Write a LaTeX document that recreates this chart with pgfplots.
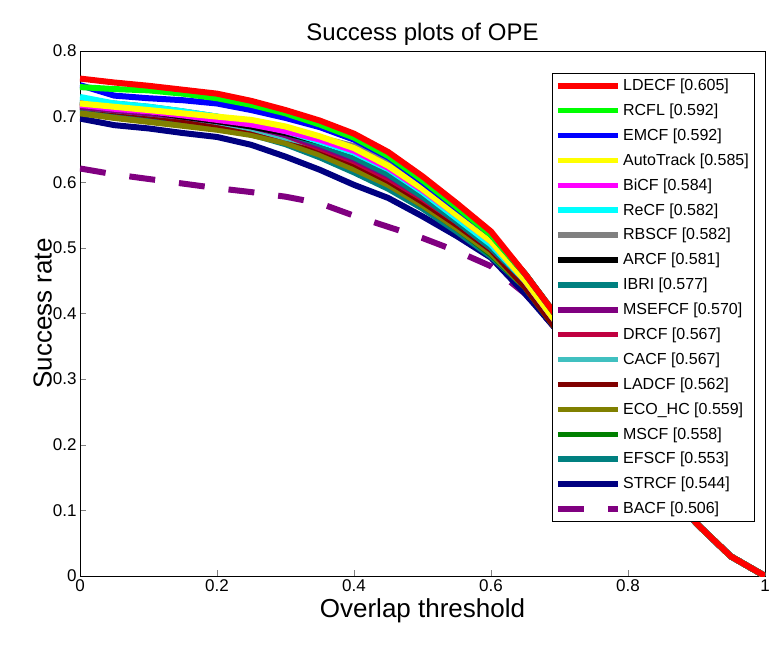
\documentclass[border=0pt]{standalone}
\usepackage{pgfplots}
\pgfplotsset{compat=1.18}
\usepackage{fontspec}
\setmainfont{Liberation Sans}
\definecolor{cDR}{RGB}{192,0,64}
\definecolor{cCA}{RGB}{64,192,192}
\definecolor{cTE}{RGB}{0,128,128}
\definecolor{cMS}{RGB}{0,128,0}
\definecolor{cPU}{RGB}{128,0,128}
\definecolor{cMA}{RGB}{128,0,0}
\definecolor{cOL}{RGB}{128,128,0}
\definecolor{cNA}{RGB}{0,0,128}
\definecolor{cMG}{RGB}{255,0,255}
\definecolor{cCY}{RGB}{0,255,255}
\definecolor{cYE}{RGB}{255,255,0}
\definecolor{cGR}{RGB}{0,255,0}
\definecolor{cRE}{RGB}{255,0,0}
\definecolor{cBL}{RGB}{0,0,255}
\definecolor{cGY}{RGB}{128,128,128}
\begin{document}
\begin{tikzpicture}
\begin{axis}[scale only axis, width=685pt, height=525pt,
 xmin=0,xmax=1,ymin=0,ymax=0.8,
 xtick={0,0.2,...,1}, ytick={0,0.1,...,0.8},
 xticklabel style={/pgf/number format/fixed},
 yticklabel style={/pgf/number format/fixed,/pgf/number format/precision=1},
 /pgf/number format/assume math mode=true,
 tick label style={font=\fontsize{17}{20}\selectfont},
 tick align=inside, major tick length=6pt, axis line style={line width=0.8pt},
 xtick pos=bottom, ytick pos=left, axis lines=box,
 title={Success plots of OPE}, title style={font=\fontsize{24}{28}\selectfont, yshift=-4pt},
 xlabel={Overlap threshold}, ylabel={Success rate},
 label style={font=\fontsize{26}{30}\selectfont},
 ylabel style={yshift=-6pt},
 every axis plot/.append style={line width=6pt, line join=round},
 reverse legend,
 legend style={at={(0.985,0.958)}, anchor=north east, font=\fontsize{16}{19}\selectfont,
   draw=black, line width=0.8pt, fill=white, inner sep=3pt, row sep=6.3pt,
   nodes={inner sep=2.5pt, text depth=2pt}},
 legend cell align=left,
 legend image code/.code={\draw[#1, line width=5.5pt] (0pt,0pt) -- (60pt,0pt);},
]
\addplot[cPU, dash pattern=on 26pt off 24pt] coordinates {(0,.621)(0.05,.612)(0.1,.605)(0.15,.598)(0.2,.591)(0.25,.585)(0.3,.578)(0.35,.568)(0.4,.549)(0.45,.532)(0.5,.515)(0.55,.495)(0.6,.472)(0.65,.43)(0.7,.37)(0.75,.30)(0.8,.22)(0.85,.15)(0.9,.08)(0.95,.03)(1,0)};
\addlegendentry{BACF [0.506]}
\addplot[cNA] coordinates {(0,.697)(0.05,.687)(0.1,.682)(0.15,.675)(0.2,.669)(0.25,.657)(0.3,.639)(0.35,.619)(0.4,.596)(0.45,.576)(0.5,.548)(0.55,.518)(0.6,.485)(0.65,.43)(0.7,.37)(0.75,.29)(0.8,.21)(0.85,.14)(0.9,.08)(0.95,.03)(1,0)};
\addlegendentry{STRCF [0.544]}
\addplot[cTE] coordinates {(0,.71)(0.05,.70)(0.1,.695)(0.15,.69)(0.2,.683)(0.25,.673)(0.3,.658)(0.35,.638)(0.4,.615)(0.45,.59)(0.5,.56)(0.55,.525)(0.6,.487)(0.65,.44)(0.7,.37)(0.75,.29)(0.8,.21)(0.85,.14)(0.9,.08)(0.95,.03)(1,0)};
\addlegendentry{EFSCF [0.553]}
\addplot[cMS] coordinates {(0,.722)(0.05,.718)(0.1,.712)(0.15,.705)(0.2,.695)(0.25,.682)(0.3,.665)(0.35,.645)(0.4,.622)(0.45,.597)(0.5,.565)(0.55,.53)(0.6,.49)(0.65,.44)(0.7,.37)(0.75,.29)(0.8,.21)(0.85,.14)(0.9,.08)(0.95,.03)(1,0)};
\addlegendentry{MSCF [0.558]}
\addplot[cOL] coordinates {(0,.705)(0.05,.698)(0.1,.692)(0.15,.686)(0.2,.68)(0.25,.672)(0.3,.66)(0.35,.642)(0.4,.62)(0.45,.596)(0.5,.565)(0.55,.53)(0.6,.492)(0.65,.44)(0.7,.37)(0.75,.29)(0.8,.21)(0.85,.14)(0.9,.08)(0.95,.03)(1,0)};
\addlegendentry{ECO\_HC [0.559]}
\addplot[cMA] coordinates {(0,.715)(0.05,.708)(0.1,.702)(0.15,.695)(0.2,.688)(0.25,.68)(0.3,.668)(0.35,.65)(0.4,.628)(0.45,.602)(0.5,.57)(0.55,.535)(0.6,.497)(0.65,.44)(0.7,.37)(0.75,.29)(0.8,.21)(0.85,.14)(0.9,.08)(0.95,.03)(1,0)};
\addlegendentry{LADCF [0.562]}
\addplot[cCA] coordinates {(0,.715)(0.05,.71)(0.1,.705)(0.15,.70)(0.2,.692)(0.25,.682)(0.3,.668)(0.35,.655)(0.4,.642)(0.45,.62)(0.5,.585)(0.55,.545)(0.6,.505)(0.65,.45)(0.7,.38)(0.75,.30)(0.8,.22)(0.85,.14)(0.9,.08)(0.95,.03)(1,0)};
\addlegendentry{CACF [0.567]}
\addplot[cDR] coordinates {(0,.72)(0.05,.715)(0.1,.71)(0.15,.705)(0.2,.698)(0.25,.688)(0.3,.672)(0.35,.652)(0.4,.632)(0.45,.606)(0.5,.575)(0.55,.54)(0.6,.50)(0.65,.45)(0.7,.38)(0.75,.30)(0.8,.22)(0.85,.14)(0.9,.08)(0.95,.03)(1,0)};
\addlegendentry{DRCF [0.567]}
\addplot[cPU] coordinates {(0,.715)(0.05,.71)(0.1,.705)(0.15,.70)(0.2,.693)(0.25,.685)(0.3,.672)(0.35,.655)(0.4,.635)(0.45,.61)(0.5,.578)(0.55,.54)(0.6,.50)(0.65,.45)(0.7,.38)(0.75,.30)(0.8,.22)(0.85,.14)(0.9,.08)(0.95,.03)(1,0)};
\addlegendentry{MSEFCF [0.570]}
\addplot[cTE] coordinates {(0,.725)(0.05,.72)(0.1,.715)(0.15,.708)(0.2,.70)(0.25,.69)(0.3,.676)(0.35,.658)(0.4,.638)(0.45,.612)(0.5,.578)(0.55,.54)(0.6,.50)(0.65,.45)(0.7,.38)(0.75,.30)(0.8,.22)(0.85,.14)(0.9,.08)(0.95,.03)(1,0)};
\addlegendentry{IBRI [0.577]}
\addplot[black] coordinates {(0,.72)(0.05,.714)(0.1,.708)(0.15,.70)(0.2,.693)(0.25,.685)(0.3,.675)(0.35,.662)(0.4,.645)(0.45,.625)(0.5,.595)(0.55,.555)(0.6,.515)(0.65,.46)(0.7,.39)(0.75,.31)(0.8,.23)(0.85,.15)(0.9,.08)(0.95,.03)(1,0)};
\addlegendentry{ARCF [0.581]}
\addplot[cGY] coordinates {(0,.722)(0.05,.716)(0.1,.71)(0.15,.704)(0.2,.697)(0.25,.69)(0.3,.68)(0.35,.668)(0.4,.655)(0.45,.63)(0.5,.592)(0.55,.55)(0.6,.508)(0.65,.45)(0.7,.38)(0.75,.30)(0.8,.22)(0.85,.15)(0.9,.08)(0.95,.03)(1,0)};
\addlegendentry{RBSCF [0.582]}
\addplot[cCY] coordinates {(0,.73)(0.05,.72)(0.1,.715)(0.15,.708)(0.2,.70)(0.25,.69)(0.3,.678)(0.35,.662)(0.4,.645)(0.45,.62)(0.5,.585)(0.55,.545)(0.6,.505)(0.65,.45)(0.7,.38)(0.75,.30)(0.8,.22)(0.85,.15)(0.9,.08)(0.95,.03)(1,0)};
\addlegendentry{ReCF [0.582]}
\addplot[cMG] coordinates {(0,.718)(0.05,.712)(0.1,.708)(0.15,.702)(0.2,.695)(0.25,.688)(0.3,.678)(0.35,.665)(0.4,.648)(0.45,.622)(0.5,.588)(0.55,.55)(0.6,.51)(0.65,.45)(0.7,.38)(0.75,.30)(0.8,.22)(0.85,.15)(0.9,.08)(0.95,.03)(1,0)};
\addlegendentry{BiCF [0.584]}
\addplot[cYE] coordinates {(0,.72)(0.05,.715)(0.1,.71)(0.15,.705)(0.2,.70)(0.25,.695)(0.3,.685)(0.35,.67)(0.4,.652)(0.45,.625)(0.5,.59)(0.55,.55)(0.6,.51)(0.65,.45)(0.7,.38)(0.75,.30)(0.8,.22)(0.85,.15)(0.9,.08)(0.95,.03)(1,0)};
\addlegendentry{AutoTrack [0.585]}
\addplot[cBL] coordinates {(0,.748)(0.05,.732)(0.1,.728)(0.15,.725)(0.2,.72)(0.25,.71)(0.3,.698)(0.35,.684)(0.4,.665)(0.45,.638)(0.5,.60)(0.55,.56)(0.6,.52)(0.65,.46)(0.7,.39)(0.75,.31)(0.8,.23)(0.85,.15)(0.9,.08)(0.95,.03)(1,0)};
\addlegendentry{EMCF [0.592]}
\addplot[cGR] coordinates {(0,.745)(0.05,.742)(0.1,.74)(0.15,.735)(0.2,.728)(0.25,.718)(0.3,.705)(0.35,.688)(0.4,.668)(0.45,.64)(0.5,.603)(0.55,.562)(0.6,.52)(0.65,.46)(0.7,.39)(0.75,.31)(0.8,.23)(0.85,.15)(0.9,.08)(0.95,.03)(1,0)};
\addlegendentry{RCFL [0.592]}
\addplot[cRE] coordinates {(0,.758)(0.05,.752)(0.1,.747)(0.15,.741)(0.2,.735)(0.25,.724)(0.3,.71)(0.35,.694)(0.4,.674)(0.45,.646)(0.5,.609)(0.55,.568)(0.6,.525)(0.65,.46)(0.7,.39)(0.75,.31)(0.8,.23)(0.85,.15)(0.9,.08)(0.95,.03)(1,0)};
\addlegendentry{LDECF [0.605]}
\end{axis}
\pgfresetboundingbox
\path (current axis.south west) ++(-80pt,-80pt) rectangle ++(779pt,656pt);
\end{tikzpicture}
\end{document}
